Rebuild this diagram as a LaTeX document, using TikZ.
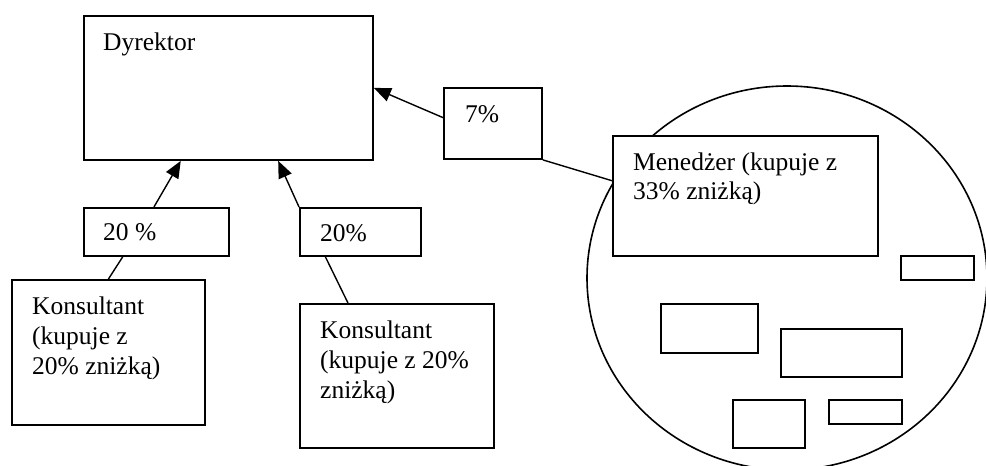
\documentclass[tikz,border=0pt]{standalone}
\usepackage{fontspec}
\setmainfont{Liberation Serif}
\usetikzlibrary{arrows.meta,calc}
\begin{document}
\begin{tikzpicture}[x=1pt,y=-1pt,
  box/.style={draw,line width=1.9pt,fill=white,inner sep=0pt,anchor=north west},
  lbl/.style={inner sep=0pt,anchor=base west,align=left,font=\fontsize{25.5}{30}\selectfont},
  link/.style={line width=1.4pt},
  arr/.style={line width=1.4pt,-{Triangle[length=17pt,width=14pt]}}]
\useasboundingbox (0,0) rectangle (986,466);
% group ellipse
\draw[line width=1.6pt] (787,278) ellipse [x radius=200, y radius=192];
% boxes
\node[box,minimum width=289pt,minimum height=144pt] (dyr) at (83,15) {};
\node[box,minimum width=98pt,minimum height=71pt] (p7) at (443,87) {};
\node[box,minimum width=145pt,minimum height=48pt] (p20a) at (83,207) {};
\node[box,minimum width=121pt,minimum height=48pt] (p20b) at (299,207) {};
\node[box,minimum width=193pt,minimum height=145pt] (kon1) at (11,279) {};
\node[box,minimum width=194pt,minimum height=144pt] (kon2) at (299,303) {};
\node[box,minimum width=265pt,minimum height=120pt] (men) at (612,135) {};
\node[box,minimum width=73pt,minimum height=24pt] (s1) at (900,255) {};
\node[box,minimum width=97pt,minimum height=49pt] (s2) at (660,303) {};
\node[box,minimum width=121pt,minimum height=48pt] (s3) at (780,328) {};
\node[box,minimum width=72pt,minimum height=48pt] (s4) at (732,399) {};
\node[box,minimum width=73pt,minimum height=24pt] (s5) at (828,399) {};
% labels (base anchor = baseline of the last line)
\node[lbl] (tdyr) at (103,50) {Dyrektor};
\node[lbl] (t7) at (465,122) {7\%};
\node[lbl] (t20a) at (103,240) {20 \%};
\node[lbl] (t20b) at (320,241) {20\%};
\node[lbl] (tkon1) at (32,374) {Konsultant\\(kupuje z\\20\% zniżką)};
\node[lbl] (tkon2) at (320,398) {Konsultant\\(kupuje z 20\%\\zniżką)};
\node[lbl,font=\fontsize{25.5}{29}\selectfont] (tmen) at (633,199) {Menedżer (kupuje z\\33\% zniżką)};
% connectors
\draw[arr] ($(p20a.north west)!0.483!(p20a.north east)$) -- ($(dyr.south west)!0.336!(dyr.south east)$);
\draw[arr] (p20b.north west) -- ($(dyr.south west)!0.671!(dyr.south east)$);
\draw[arr] ($(p7.north west)!0.42!(p7.south west)$) -- (dyr.east);
\draw[link] (p7.south east) -- ($(men.north west)!0.375!(men.south west)$);
\draw[link] ($(p20a.south west)!0.27!(p20a.south east)$) -- (kon1.north);
\draw[link] ($(p20b.south west)!0.215!(p20b.south east)$) -- ($(kon2.north west)!0.25!(kon2.north east)$);
\end{tikzpicture}
\end{document}
